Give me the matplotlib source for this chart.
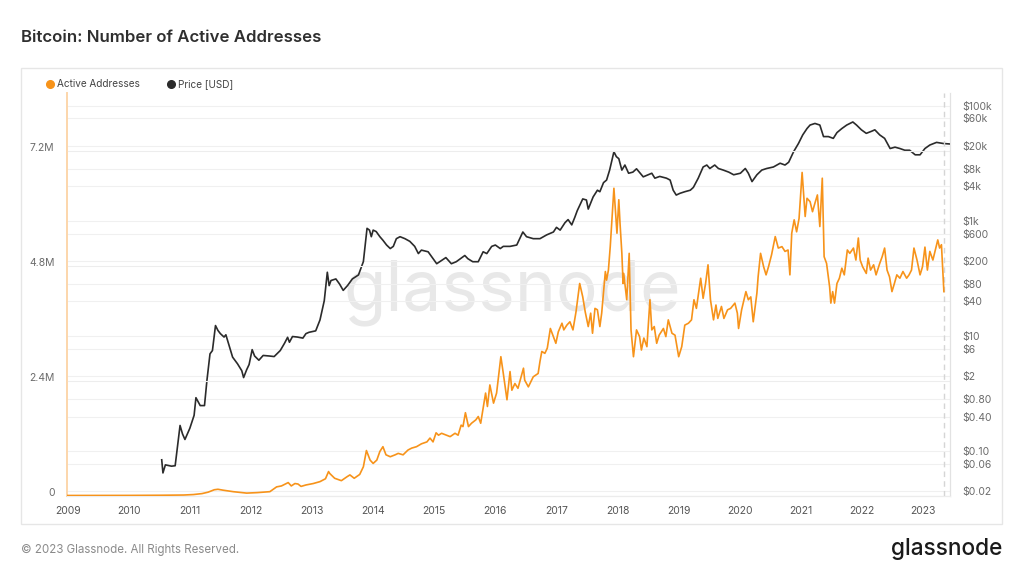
import numpy as np
import matplotlib
matplotlib.use("Agg")
import matplotlib.pyplot as plt
from matplotlib.lines import Line2D
from matplotlib.patches import Rectangle
from matplotlib.ticker import NullLocator, FixedLocator
import matplotlib.transforms as mtransforms

plt.rcParams['font.family'] = ['Inter', 'DejaVu Sans']

# ---------------- data (decimal year, value) ----------------
# BTC price, USD
price_points = [
    (2010.54, 0.071), (2010.56, 0.042), (2010.60, 0.058), (2010.70, 0.055), (2010.76, 0.056),
    (2010.78, 0.084), (2010.84, 0.28), (2010.88, 0.20), (2010.92, 0.16), (2011.00, 0.25),
    (2011.07, 0.42), (2011.10, 0.85), (2011.17, 0.62), (2011.24, 0.62), (2011.28, 1.7),
    (2011.33, 4.9), (2011.37, 5.6), (2011.42, 15.2), (2011.46, 12.5), (2011.50, 11.0),
    (2011.56, 9.6), (2011.59, 10.5), (2011.65, 6.5), (2011.70, 4.3), (2011.78, 3.3),
    (2011.85, 2.5), (2011.88, 1.9), (2011.93, 2.6), (2011.97, 3.2), (2012.02, 5.8),
    (2012.06, 4.5), (2012.13, 3.8), (2012.20, 4.6), (2012.30, 4.5), (2012.38, 4.4),
    (2012.48, 5.6), (2012.55, 7.5), (2012.60, 9.5), (2012.63, 7.8), (2012.68, 9.8),
    (2012.76, 9.6), (2012.85, 9.2), (2012.90, 11.0), (2012.95, 11.6), (2013.06, 12.3),
    (2013.13, 19), (2013.20, 41), (2013.25, 128), (2013.28, 75), (2013.31, 92),
    (2013.39, 98), (2013.45, 80), (2013.51, 62), (2013.58, 75), (2013.66, 98),
    (2013.76, 115), (2013.84, 196), (2013.90, 740), (2013.94, 690), (2013.97, 530),
    (2014.00, 690), (2014.05, 650), (2014.11, 530), (2014.16, 460), (2014.22, 380),
    (2014.28, 330), (2014.33, 360), (2014.38, 490), (2014.44, 530), (2014.52, 490),
    (2014.60, 440), (2014.68, 360), (2014.74, 270), (2014.79, 310), (2014.90, 290),
    (2014.98, 220), (2015.04, 180), (2015.09, 195), (2015.19, 230), (2015.28, 180),
    (2015.36, 195), (2015.50, 250), (2015.55, 220), (2015.63, 195), (2015.72, 195),
    (2015.80, 290), (2015.86, 270), (2015.94, 360), (2016.00, 380), (2016.08, 330),
    (2016.13, 360), (2016.24, 360), (2016.35, 380), (2016.45, 640), (2016.51, 530),
    (2016.62, 490), (2016.73, 490), (2016.84, 570), (2016.95, 640), (2017.00, 770),
    (2017.06, 690), (2017.14, 930), (2017.19, 1050), (2017.25, 850), (2017.30, 1150),
    (2017.34, 1500), (2017.43, 2400), (2017.49, 2300), (2017.52, 1600), (2017.60, 2600),
    (2017.67, 3400), (2017.71, 3200), (2017.77, 4600), (2017.82, 5100), (2017.87, 7600),
    (2017.94, 15800), (2017.98, 13000), (2018.02, 12000), (2018.07, 7600), (2018.12, 9300),
    (2018.18, 6700), (2018.25, 7000), (2018.31, 8000), (2018.42, 5800), (2018.50, 6300),
    (2018.56, 6700), (2018.61, 5500), (2018.69, 5900), (2018.80, 5500), (2018.86, 5100),
    (2018.91, 3400), (2018.96, 2800), (2019.02, 3000), (2019.10, 3200), (2019.19, 3400),
    (2019.24, 3800), (2019.32, 5500), (2019.40, 8600), (2019.46, 9300), (2019.51, 8100),
    (2019.59, 9300), (2019.65, 8100), (2019.73, 7600), (2019.82, 7000), (2019.90, 6300),
    (2020.01, 6700), (2020.09, 8100), (2020.14, 6700), (2020.20, 4800), (2020.28, 6300),
    (2020.36, 7600), (2020.44, 8100), (2020.55, 8600), (2020.66, 10000), (2020.74, 9300),
    (2020.80, 10400), (2020.88, 15800), (2020.96, 22000), (2021.03, 31000), (2021.10, 40000),
    (2021.15, 46000), (2021.23, 49000), (2021.31, 46000), (2021.37, 29000), (2021.45, 29000),
    (2021.53, 27000), (2021.59, 34000), (2021.67, 40000), (2021.75, 46000), (2021.85, 52000),
    (2021.91, 46000), (2021.99, 38000), (2022.07, 33000), (2022.16, 36000), (2022.21, 38000),
    (2022.29, 31000), (2022.37, 27000), (2022.46, 18000), (2022.54, 19000), (2022.62, 18000),
    (2022.70, 16800), (2022.78, 16800), (2022.87, 14000), (2022.95, 14000), (2023.03, 18000),
    (2023.11, 20700), (2023.22, 23000), (2023.33, 22000), (2023.43, 21600),
]

# active addresses, millions
address_points = [
    (2009.00, 0.0005), (2009.50, 0.001), (2010.00, 0.002), (2010.50, 0.005), (2010.90, 0.01),
    (2011.06, 0.02), (2011.20, 0.04), (2011.30, 0.07), (2011.40, 0.12), (2011.46, 0.13),
    (2011.55, 0.11), (2011.71, 0.08), (2011.93, 0.05), (2012.10, 0.06), (2012.31, 0.08),
    (2012.42, 0.18), (2012.50, 0.20), (2012.61, 0.27), (2012.66, 0.20), (2012.72, 0.25),
    (2012.77, 0.24), (2012.82, 0.19), (2012.90, 0.22), (2013.02, 0.25), (2013.13, 0.29),
    (2013.22, 0.35), (2013.27, 0.50), (2013.29, 0.46), (2013.37, 0.36), (2013.48, 0.31),
    (2013.57, 0.39), (2013.62, 0.43), (2013.69, 0.36), (2013.78, 0.44), (2013.84, 0.60),
    (2013.89, 0.94), (2013.95, 0.74), (2014.00, 0.67), (2014.06, 0.74), (2014.11, 0.92),
    (2014.16, 1.02), (2014.21, 0.85), (2014.28, 0.81), (2014.36, 0.85), (2014.41, 0.88),
    (2014.49, 0.85), (2014.57, 0.95), (2014.63, 0.99), (2014.71, 1.02), (2014.79, 1.08),
    (2014.88, 1.12), (2014.93, 1.20), (2014.98, 1.12), (2015.03, 1.31), (2015.07, 1.26),
    (2015.12, 1.30), (2015.20, 1.26), (2015.26, 1.23), (2015.34, 1.30), (2015.39, 1.26),
    (2015.44, 1.47), (2015.47, 1.44), (2015.51, 1.73), (2015.56, 1.44), (2015.61, 1.51),
    (2015.68, 1.58), (2015.72, 1.65), (2015.76, 1.51), (2015.80, 1.82), (2015.84, 2.14),
    (2015.87, 1.86), (2015.91, 2.31), (2015.97, 1.93), (2016.02, 2.14), (2016.09, 2.90),
    (2016.13, 2.55), (2016.16, 2.27), (2016.19, 2.00), (2016.24, 2.59), (2016.27, 2.20),
    (2016.32, 2.34), (2016.37, 2.24), (2016.46, 2.66), (2016.48, 2.41), (2016.54, 2.27),
    (2016.62, 2.48), (2016.70, 2.55), (2016.73, 2.80), (2016.76, 3.01), (2016.81, 2.97),
    (2016.85, 3.08), (2016.90, 3.49), (2016.95, 3.32), (2016.99, 3.18), (2017.03, 3.42),
    (2017.09, 3.60), (2017.12, 3.46), (2017.17, 3.56), (2017.22, 3.63), (2017.27, 3.46),
    (2017.32, 3.84), (2017.38, 4.43), (2017.43, 4.15), (2017.47, 3.84), (2017.52, 3.53),
    (2017.56, 3.81), (2017.59, 3.39), (2017.63, 3.91), (2017.67, 3.88), (2017.71, 3.53),
    (2017.74, 3.81), (2017.80, 4.68), (2017.82, 4.50), (2017.85, 4.71), (2017.88, 5.20),
    (2017.94, 6.42), (2017.99, 5.48), (2018.02, 6.18), (2018.04, 5.69), (2018.07, 5.06),
    (2018.09, 4.43), (2018.10, 4.64), (2018.15, 4.09), (2018.19, 5.06), (2018.22, 3.46),
    (2018.26, 2.90), (2018.31, 3.46), (2018.36, 3.32), (2018.39, 3.04), (2018.43, 3.29),
    (2018.48, 3.11), (2018.53, 4.09), (2018.56, 3.46), (2018.60, 3.53), (2018.64, 3.18),
    (2018.68, 3.35), (2018.75, 3.49), (2018.79, 3.32), (2018.83, 3.67), (2018.89, 3.39),
    (2018.94, 3.35), (2019.00, 2.90), (2019.05, 3.11), (2019.10, 3.56), (2019.16, 3.60),
    (2019.21, 3.67), (2019.25, 4.09), (2019.29, 3.91), (2019.36, 4.54), (2019.40, 4.12),
    (2019.44, 4.43), (2019.48, 4.82), (2019.52, 4.09), (2019.57, 3.67), (2019.61, 3.98),
    (2019.64, 3.70), (2019.70, 3.95), (2019.74, 3.70), (2019.80, 3.88), (2019.85, 3.91),
    (2019.92, 4.02), (2019.96, 3.81), (2019.98, 3.49), (2020.03, 3.88), (2020.10, 4.26),
    (2020.14, 4.09), (2020.18, 4.15), (2020.22, 3.63), (2020.28, 4.23), (2020.30, 4.57),
    (2020.34, 5.06), (2020.39, 4.78), (2020.43, 4.61), (2020.47, 4.78), (2020.52, 5.03),
    (2020.58, 5.41), (2020.63, 5.17), (2020.69, 5.20), (2020.74, 5.10), (2020.79, 5.13),
    (2020.82, 4.61), (2020.85, 5.48), (2020.89, 5.76), (2020.93, 5.51), (2020.97, 5.79),
    (2021.02, 6.75), (2021.07, 5.83), (2021.10, 6.21), (2021.15, 6.14), (2021.19, 5.93),
    (2021.23, 6.11), (2021.27, 6.28), (2021.31, 5.62), (2021.35, 6.63), (2021.38, 4.99),
    (2021.42, 4.85), (2021.47, 4.36), (2021.49, 4.02), (2021.52, 4.26), (2021.55, 4.02),
    (2021.59, 4.43), (2021.63, 4.54), (2021.67, 4.75), (2021.71, 4.61), (2021.76, 5.13),
    (2021.80, 5.06), (2021.86, 5.17), (2021.90, 4.92), (2021.94, 5.38), (2021.97, 4.92),
    (2022.01, 4.78), (2022.07, 4.64), (2022.10, 4.96), (2022.14, 4.71), (2022.19, 4.82),
    (2022.23, 4.61), (2022.29, 4.85), (2022.33, 4.99), (2022.37, 5.17), (2022.41, 4.71),
    (2022.45, 4.57), (2022.49, 4.26), (2022.53, 4.43), (2022.57, 4.61), (2022.62, 4.54),
    (2022.67, 4.68), (2022.73, 4.54), (2022.77, 4.61), (2022.81, 4.71), (2022.85, 5.17),
    (2022.90, 4.92), (2022.95, 4.61), (2022.99, 4.78), (2023.03, 5.19), (2023.07, 4.71),
    (2023.11, 5.10), (2023.16, 4.92), (2023.20, 5.13), (2023.24, 5.34), (2023.27, 5.17),
    (2023.30, 5.24), (2023.34, 4.26),
]

year_ticks = list(range(2009, 2024))
left_ticks = [0, 2.4, 4.8, 7.2]
left_labels = ["0", "2.4M", "4.8M", "7.2M"]
right_ticks = [0.02, 0.06, 0.10, 0.40, 0.80, 2, 6, 10, 40, 80, 200, 600, 1000, 4000, 8000,
               20000, 60000, 100000]
right_labels = ["$0.02", "$0.06", "$0.10", "$0.40", "$0.80", "$2", "$6", "$10", "$40", "$80",
                "$200", "$600", "$1k", "$4k", "$8k", "$20k", "$60k", "$100k"]

ORANGE = "#f7931a"
BLACK = "#2b2b2b"
TICK = "#6b6b6b"

W, H = 1024, 576
fig = plt.figure(figsize=(W / 100, H / 100), dpi=100)
fig.patch.set_facecolor("white")

def fx(px):
    return px / W

def fy(py):
    return 1 - py / H

# panel border
fig.add_artist(Rectangle((fx(21), fy(524)), fx(1002) - fx(21), fy(68) - fy(524),
                         transform=fig.transFigure, fill=False, edgecolor="#e6e6e6", lw=1.0))

# title
fig.text(fx(21), fy(37), "Bitcoin: Number of Active Addresses", fontsize=12.1, fontweight="semibold",
         color="#2f2f2f", va="center", ha="left")

# legend
fig.add_artist(Line2D([fx(50)], [fy(84)], marker="o", ms=5.5, color=ORANGE, transform=fig.transFigure))
fig.text(fx(57), fy(84), "Active Addresses", fontsize=7.2, color="#444", va="center")
fig.add_artist(Line2D([fx(171)], [fy(84)], marker="o", ms=5.5, color=BLACK, transform=fig.transFigure))
fig.text(fx(178), fy(84), "Price [USD]", fontsize=7.2, color="#444", va="center")

# watermark
fig.text(fx(512), fy(293), "glassnode", fontsize=50, color="#e8e8e8", ha="center", va="center",
         zorder=-1)

# footer
fig.text(fx(21), fy(550), "\u00a9 2023 Glassnode. All Rights Reserved.", fontsize=8.3, color="#8a8a8a",
         va="center", ha="left")
fig.text(fx(1002), fy(549), "glassnode", fontsize=16.3, color="#1a1a1a", va="center", ha="right",
         fontweight="medium")

# axes
ax_left, ax_right, ax_top, ax_bot = 67, 950, 93, 496
ax2 = fig.add_axes([fx(ax_left), fy(ax_bot), fx(ax_right) - fx(ax_left), fy(ax_top) - fy(ax_bot)])
ax = ax2.twinx()  # orange series on top
ax2.patch.set_visible(False)
ax.patch.set_visible(False)

# price axis (right, log)
pt = np.array([p[0] for p in price_points])
pv = np.array([p[1] for p in price_points])
ax2.plot(pt, pv, color=BLACK, lw=1.2, zorder=3)
ax2.set_yscale("log")
ax2.set_ylim(0.0167, 165600)
ax2.yaxis.tick_right()
ax2.yaxis.set_major_locator(FixedLocator(right_ticks))
ax2.yaxis.set_minor_locator(NullLocator())
ax2.set_yticklabels(right_labels)
ax2.tick_params(axis="y", length=0, pad=9, labelsize=7.5, labelcolor=TICK)
ax2.grid(True, axis="y", color="#f0f0f0", lw=0.8, zorder=0)
ax2.set_xlim(2008.99, 2023.44)
ax2.set_xticks(year_ticks)
ax2.set_xticklabels([str(y) for y in year_ticks])
ax2.tick_params(axis="x", length=0, pad=7, labelsize=7.5, labelcolor="#555")

# addresses axis (left)
at = np.array([p[0] for p in address_points])
av = np.array([p[1] for p in address_points])
ax.plot(at, av, color=ORANGE, lw=1.2, zorder=3)
ax.set_ylim(-0.0104, 8.41)
ax.yaxis.tick_left()
ax.set_yticks(left_ticks)
ax.set_yticklabels(left_labels)
ax.tick_params(axis="y", length=0, pad=9, labelsize=7.5, labelcolor=TICK)
for yv in left_ticks:
    ax.axhline(yv, color="#ededed", lw=0.8, zorder=0)
offset = mtransforms.ScaledTranslation(0, 0.04, fig.dpi_scale_trans)
for lab in ax.get_yticklabels():
    lab.set_transform(lab.get_transform() + offset)

# dashed end-of-data line
ax.axvline(2023.34, color="#d5d5d5", lw=1.0, ls=(0, (4, 3)), zorder=1)

for a in (ax, ax2):
    a.spines["top"].set_visible(False)
    a.spines["right"].set_color("#e2e2e2")
    a.spines["bottom"].set_color("#ececec")
    a.spines["left"].set_color("#fcd7ad")
    a.spines["left"].set_linewidth(1.3)

fig.savefig("out.png", dpi=100)
